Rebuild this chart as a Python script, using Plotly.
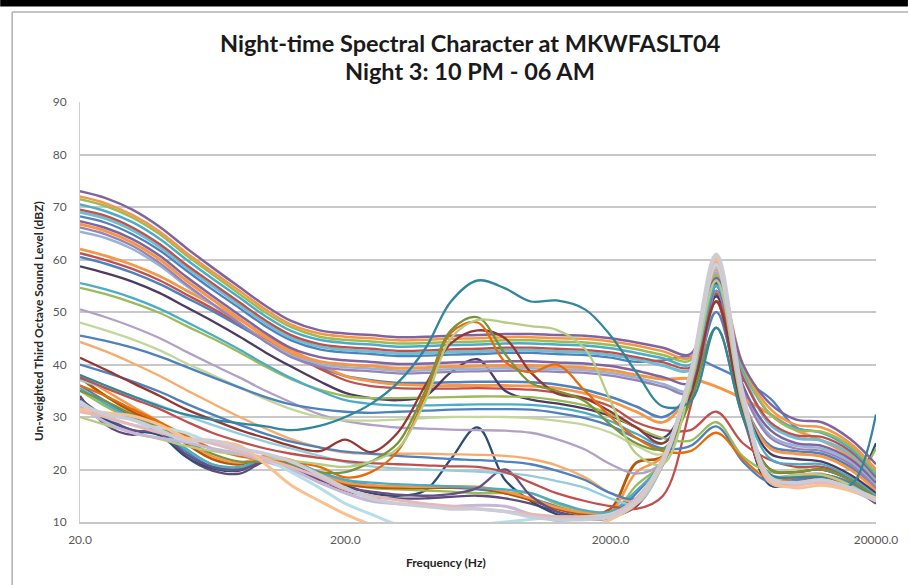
import plotly.graph_objects as go

FREQ_HZ = [20, 25, 31.5, 40, 50, 63, 80, 100, 125, 160, 200, 250, 315, 400, 500, 630,
           800, 1000, 1250, 1600, 2000, 2500, 3150, 4000, 5000, 6300, 8000, 10000, 12500, 16000, 20000]
X_TICK_VALUES = [20, 200, 2000, 20000]
X_TICK_LABELS = ["20.0", "200.0", "2000.0", "20000.0"]
Y_TICK_VALUES = [10, 20, 30, 40, 50, 60, 70, 80, 90]
TITLE_LINES = ["Night-time Spectral Character at MKWFASLT04", "Night 3: 10 PM - 06 AM"]
X_TITLE = "Frequency (Hz)"
Y_TITLE = "Un-weighted Third Octave Sound Level (dBZ)"

# ---- series (dBZ per third-octave band) ----
# lower group (dip near 63-80 Hz)
L_PURPLE = [34, 28.5, 26.6, 27.8, 22.5, 19.8, 19.2, 21.5, 20.5, 17.5, 16, 14.8, 14.5, 14.5, 14.8, 15.0, 14.5, 13.5, 12, 11, 11, 13, 21, 36, 55.5, 31, 17, 17.5, 18, 16.5, 13.5]
L_NAVY = [33, 29.5, 27.5, 26.5, 22.5, 20.2, 19.8, 21.8, 21, 18.5, 17, 15.5, 15, 16, 22, 28, 18, 14, 11.5, 10.5, 11, 14, 21.5, 36.5, 54, 31, 17, 17.5, 18, 17, 25]
L_BLUE = [36, 33, 30, 27.5, 23.5, 20.5, 20, 22, 21.5, 19.5, 18, 17, 16.5, 16.5, 16.5, 16.2, 15.5, 14.5, 13, 11.5, 11.5, 15.5, 22, 37, 55, 32, 17.5, 18, 18.5, 17, 14]
L_GREEN = [35, 32, 29.5, 27.5, 24, 21, 20.3, 21.8, 21.5, 19, 17.5, 16.5, 16.2, 16, 15.8, 15.5, 15.5, 15.5, 13.5, 12, 11.5, 17, 21.5, 36, 53, 31, 18, 18.5, 19, 17.5, 24]
L_BROWN = [37.5, 34, 31, 28.5, 25, 22, 21, 22.5, 21.5, 19, 17.2, 16.7, 16.5, 16.5, 16.6, 16.5, 15.5, 14.2, 12.5, 11.5, 12.5, 21.3, 22.5, 37, 53.5, 31.5, 18, 18, 18.5, 17, 14]
L_ORANGE = [38, 35, 32, 29, 25.5, 22.5, 21.3, 22.5, 21.8, 19.3, 17.5, 17, 16.8, 16.7, 16.8, 16.7, 15.8, 14.5, 12.8, 11.8, 12, 19.5, 22.5, 37.5, 57, 32.5, 18.5, 18.5, 19, 17.5, 14.5]
L_TEAL = [35.5, 32.5, 29.8, 27.5, 24, 21, 20.5, 22, 21.5, 19.5, 18, 17.5, 17.2, 17.0, 16.8, 16.5, 16.2, 15.5, 13.8, 12.2, 12, 16, 21.5, 36.5, 54, 31.5, 18, 18, 18.5, 17, 14]
L_PURPLE2 = [33.5, 30, 27.5, 27, 23, 20.5, 20, 21.5, 20.5, 18, 16.5, 15.8, 15.2, 15, 15.3, 16.5, 20, 15, 12, 10.5, 10.8, 13.5, 21, 36, 56, 31.5, 17.5, 17.5, 18, 16.5, 14]

# middle-lower group
ML_LAVENDER = [50.5, 49.0, 47.2, 45.0, 42.5, 40, 37.5, 35, 32.8, 30.5, 29.2, 28.5, 28.0, 27.8, 27.6, 27.5, 27.4, 27.0, 25.8, 23.8, 21.0, 19.2, 21.5, 36.0, 57.0, 32.0, 19.0, 19.0, 19.2, 17.0, 14.0]
ML_LTGREEN = [48, 46.5, 44.8, 42.7, 40.3, 38, 35.6, 33.4, 31.5, 30.0, 29.4, 29.3, 29.5, 29.8, 30.0, 30.0, 30.0, 29.8, 29.3, 28.5, 27.0, 24.5, 23.0, 36.0, 56.0, 32.0, 20.0, 20.0, 20.5, 18.0, 14.5]
ML_SALMON = [44.3, 42.5, 40.3, 37.8, 35.2, 32.6, 30.0, 27.8, 25.8, 24.2, 23.2, 23.0, 23.0, 23.0, 22.9, 22.8, 22.6, 22.0, 20.8, 18.5, 15.5, 14.0, 21.0, 37.0, 59.5, 33.0, 18.0, 18.5, 19.0, 17.0, 14.0]
ML_BLUE = [40, 38.5, 36.8, 34.8, 32.6, 30.5, 28.5, 26.8, 25.3, 24.2, 23.4, 23.0, 22.6, 22.3, 22.0, 21.8, 21.5, 21.0, 19.8, 18.0, 15.5, 14.5, 21.0, 36.0, 56.0, 31.5, 17.5, 18.0, 18.5, 16.5, 14.0]
ML_LTBLUE = [37.0, 35.5, 34.0, 32.2, 30.3, 28.5, 26.8, 25.3, 24.0, 22.6, 21.4, 20.6, 20.2, 20.0, 19.8, 19.6, 19.3, 18.8, 17.8, 16.5, 14.5, 13.5, 21.0, 38.0, 60.5, 33.5, 18.0, 18.5, 19.0, 17.0, 14.5]
ML_RED = [37.5, 35.5, 33.5, 31.5, 29.2, 27, 25.3, 24, 23, 22.2, 21.6, 21.2, 21, 20.8, 20.6, 20.5, 19.5, 17.5, 15.5, 14, 13, 12.5, 15, 32, 52, 30, 18, 18, 18.5, 16.5, 14]

# middle group
M_BLUE = [60.5, 59.2, 57.5, 55.3, 52.8, 50.2, 47.3, 44.5, 42, 39.5, 37.8, 37.0, 36.5, 36.5, 36.6, 36.7, 36.7, 36.6, 36.2, 35.2, 33.8, 32.0, 30.0, 35.0, 50, 33.0, 24.5, 23.5, 23.0, 20.5, 16.5]
M_ORANGE = [62, 60.7, 59, 56.8, 54.2, 51.5, 48.5, 45.5, 42.8, 40, 37.8, 36.8, 36.2, 36.0, 36.0, 36.0, 36.0, 35.9, 35.5, 34.5, 33.0, 31.0, 29.0, 35.0, 52, 33.0, 24.0, 23.0, 22.5, 20.0, 16.0]
M_RED = [61.2, 59.9, 58.2, 56, 53.4, 50.7, 47.7, 44.7, 42, 39.2, 37.0, 35.9, 35.5, 35.4, 35.4, 35.5, 35.4, 35.2, 34.6, 33.6, 32.0, 29.0, 27.5, 27.5, 31.0, 25.0, 21.8, 20.5, 20.5, 18.5, 15.0]
M_DKPURPLE = [58.7, 57.4, 55.8, 53.6, 51.0, 48.3, 45.3, 42.3, 39.6, 36.8, 34.6, 33.6, 33.2, 34.0, 38.5, 41.0, 35.0, 33.3, 32.6, 31.6, 30.2, 28.0, 26.0, 35.0, 53, 33.0, 23.0, 22.0, 21.5, 19.0, 15.5]
M_GREEN = [54.6, 53.4, 51.8, 49.8, 47.4, 45, 42.3, 39.6, 37.2, 35.2, 34.0, 33.6, 33.6, 33.7, 33.8, 33.9, 33.9, 33.8, 33.2, 32.2, 30.5, 28.0, 26.0, 25.5, 29.0, 22.5, 19.5, 19.5, 20.0, 18.0, 15.0]
M_TEAL = [55.5, 54.3, 52.7, 50.6, 48.2, 45.6, 42.8, 40.0, 37.4, 35.0, 33.2, 32.5, 32.2, 32.2, 32.3, 32.4, 32.4, 32.3, 31.8, 30.8, 29.2, 26.8, 25.0, 35.5, 55, 33.5, 22.0, 21.0, 21.0, 18.5, 15.0]
M_BLUE2 = [45.5, 44.5, 43.2, 41.5, 39.6, 37.6, 35.6, 33.8, 32.4, 31.5, 31.0, 30.8, 31.0, 31.2, 31.4, 31.5, 31.5, 31.4, 30.8, 29.8, 28.3, 26.0, 24.0, 24.5, 28.2, 21.5, 17.5, 18.0, 19.0, 17.5, 14.5]

# upper group
U_PURPLE = [73, 71.7, 69.5, 66.2, 62.3, 58.5, 54.7, 51.2, 48.3, 46.5, 45.9, 45.6, 45.2, 45.3, 45.5, 45.6, 45.8, 45.8, 45.6, 45.5, 45.0, 44.2, 43.2, 42.0, 56.5, 40, 32.5, 29.5, 29.0, 25.8, 21.0]
U_ORANGE = [72, 70.7, 68.5, 65.3, 61.4, 57.7, 54.0, 50.5, 47.6, 45.9, 45.3, 45.0, 44.6, 44.7, 44.9, 45.0, 45.2, 45.2, 45.0, 44.9, 44.4, 43.6, 42.5, 41.3, 58, 40, 31.5, 28.5, 28.0, 25.0, 20.0]
U_GREEN = [71.5, 70.2, 68.0, 64.8, 60.9, 57.2, 53.4, 49.9, 47.1, 45.3, 44.7, 44.4, 44.0, 44.1, 44.3, 44.4, 44.6, 44.6, 44.4, 44.2, 43.7, 42.9, 41.8, 40.8, 57, 39.5, 30.5, 27.5, 27.2, 24.5, 19.5]
U_AQUA = [70.5, 69.2, 67.1, 63.9, 60.1, 56.4, 52.7, 49.2, 46.4, 44.7, 44.1, 43.8, 43.4, 43.5, 43.7, 43.8, 44.0, 44.0, 43.8, 43.6, 43.1, 42.2, 41.2, 40.0, 55, 39, 30.5, 27.8, 27.0, 24.0, 19.0]
U_RED = [69.5, 68.3, 66.1, 62.9, 59.1, 55.5, 51.8, 48.4, 45.6, 43.9, 43.3, 43.0, 42.6, 42.7, 42.9, 43.0, 43.2, 43.2, 43.0, 42.8, 42.3, 41.4, 40.4, 39.5, 52, 37.5, 29.0, 26.5, 26.2, 23.5, 18.5]
U_LTBLUE = [69, 67.8, 65.6, 62.4, 58.6, 55.0, 51.3, 47.9, 45.1, 43.4, 42.8, 42.5, 42.1, 42.2, 42.4, 42.5, 42.7, 42.7, 42.5, 42.3, 41.8, 41.0, 39.8, 39.0, 58.5, 38.5, 28.5, 26.0, 25.5, 23.0, 18.0]
U_BLUE = [68.2, 67.0, 64.8, 61.7, 58.0, 54.3, 50.7, 47.3, 44.6, 42.9, 42.3, 42.0, 41.6, 41.7, 41.9, 42.0, 42.2, 42.2, 42.0, 41.8, 41.3, 40.5, 40.8, 41.5, 39.5, 37.0, 33.5, 28.0, 27.0, 24.5, 19.5]
U_PURPLE2 = [67.3, 66.0, 63.9, 60.7, 56.8, 53.1, 49.4, 46.0, 43.1, 41.4, 40.8, 40.5, 40.1, 40.2, 40.4, 40.5, 40.6, 40.6, 40.4, 40.2, 39.7, 38.8, 37.6, 36.5, 55, 36, 27.5, 25.0, 24.5, 22.0, 17.5]
U_ORANGE2 = [66.7, 65.4, 63.2, 60.0, 56.1, 52.4, 48.7, 45.2, 42.3, 40.6, 40.0, 39.7, 39.3, 39.4, 39.6, 39.7, 39.8, 39.8, 39.6, 39.4, 38.9, 38.0, 37.2, 37.3, 35.8, 33.5, 30.5, 27.5, 25.5, 22.5, 17.5]
U_LAVENDER = [66.1, 64.8, 62.6, 59.3, 55.4, 51.6, 47.8, 44.3, 41.4, 39.6, 39.0, 38.7, 38.3, 38.4, 38.6, 38.7, 38.8, 38.8, 38.6, 38.4, 37.9, 37.0, 35.8, 34.5, 54, 35, 26.0, 24.0, 23.5, 21.0, 16.5]
U_SKY = [65.3, 64.1, 62.0, 58.8, 55.1, 51.5, 47.9, 44.5, 41.8, 40.1, 39.5, 39.2, 38.8, 38.9, 39.1, 39.2, 39.3, 39.3, 39.1, 38.9, 38.4, 37.5, 36.3, 35.0, 57.5, 36, 26.5, 24.5, 24.0, 21.5, 17.0]

# mid-frequency (630 Hz) events
B_TEAL = [38, 36, 34, 32, 30.5, 29.5, 28.8, 28.2, 27.5, 28.3, 30.0, 32.5, 36.5, 43, 52, 56, 54.5, 52, 52.2, 50.5, 45.5, 38.5, 32, 33, 47, 30, 19, 18.5, 18.5, 17, 30.5]
B_GREEN = [35, 33, 30.5, 28, 25.5, 23, 21.5, 21.5, 21, 19.5, 19.5, 21.5, 25, 35, 46.5, 49, 42, 36.5, 35, 33, 28.5, 25, 24, 33, 47, 30, 20, 19.5, 20, 18, 14.5]
B_ORANGE = [36, 34, 31.5, 29, 26.5, 24, 22.5, 22, 21.5, 20.5, 18.5, 19.5, 23.5, 34, 46, 48, 40.5, 38.5, 40, 35, 30, 26, 23.5, 23.5, 27, 22, 18, 18.5, 19, 17, 14]
B_RED = [41.3, 39, 36.5, 34, 31.5, 29.5, 27.5, 26, 24.5, 23.5, 25.7, 23.3, 27, 36, 44, 46.5, 45, 38.5, 34.5, 33.5, 31, 28, 25, 34, 52, 31, 20, 19.5, 20, 18, 14.5]
B_LTGREEN = [30, 28.5, 27, 25.8, 24.5, 23.5, 22.8, 22.2, 21.7, 21.0, 20.5, 21.5, 24, 33, 45, 48.5, 48, 47.3, 46.6, 43, 33, 23, 21, 36, 56, 32, 18.5, 19, 19, 17, 14]

# light series (drawn last)
L_PEACH = [31.5, 30.8, 30.2, 28.5, 26, 25.5, 24.5, 21, 17, 14, 11.5, 9.5, 8, 7, 7, 7, 7, 7.5, 8, 8.5, 10.5, 13.5, 21.5, 38, 60.5, 34, 18, 16.5, 17, 16, 14.5]
L_ICE = [33, 30, 28.5, 28, 27, 25, 23.5, 22, 19.5, 16.5, 13.5, 11.5, 9.5, 9, 9, 9.5, 10, 10.5, 11, 11, 11.5, 14, 21.5, 37.5, 59, 33.5, 17.5, 17, 18, 16.5, 14.5]
L_MIST = [32.5, 30.5, 29.5, 27.5, 25.5, 25.5, 24, 23, 21.5, 19, 16.5, 14.5, 13.5, 13, 12.5, 12.5, 12, 11, 10.5, 10.5, 11, 14, 22, 38.5, 61, 34.5, 18.5, 17.5, 18, 16.5, 14]
L_ROSE = [31, 30, 28.5, 27, 26, 25, 23.5, 22, 20.5, 18.5, 16.2, 15, 14.2, 13.5, 13, 12.5, 12, 11.5, 11, 10.8, 11.2, 14.5, 22, 38.5, 60, 34, 17.5, 17, 17.5, 16, 14]
L_LILAC = [32, 29, 27, 26, 25.2, 24, 23, 21.5, 20, 17.5, 15.5, 14, 13.5, 13.2, 13, 13.2, 13, 11.5, 10.3, 10.8, 11.5, 14.5, 21.5, 37.5, 58.5, 33, 18, 17.5, 18, 16.5, 14.5]

SERIES = [
    (L_PURPLE, "#604A7B", 2.3), (L_NAVY, "#2C4D75", 2.3), (L_BLUE, "#4F81BD", 2.3),
    (L_GREEN, "#9BBB59", 2.3), (L_BROWN, "#B65708", 2.8), (L_ORANGE, "#F79646", 2.5),
    (L_TEAL, "#4BACC6", 2.3), (L_PURPLE2, "#664F83", 2.3),
    (ML_LAVENDER, "#B2A1C7", 2.3), (ML_LTGREEN, "#C3D69B", 2.3), (ML_SALMON, "#F9AB6B", 2.3),
    (ML_BLUE, "#4F81BD", 2.3), (ML_LTBLUE, "#93CDDD", 2.3), (ML_RED, "#C0504D", 2.3),
    (M_BLUE, "#4F81BD", 2.5), (M_ORANGE, "#F79646", 2.8), (M_RED, "#C0504D", 2.3),
    (M_DKPURPLE, "#4D3B62", 2.3), (M_GREEN, "#9BBB59", 2.3), (M_TEAL, "#4BACC6", 2.3),
    (M_BLUE2, "#4F81BD", 2.3),
    (U_SKY, "#95B3D7", 2.5), (U_LAVENDER, "#9983B5", 2.3), (U_ORANGE2, "#F79646", 3.0),
    (U_PURPLE2, "#8064A2", 2.5), (U_BLUE, "#4F81BD", 2.3), (U_LTBLUE, "#6FBDD1", 3.0),
    (U_RED, "#C0504D", 2.3), (U_AQUA, "#4BACC6", 2.5), (U_GREEN, "#9BBB59", 2.5),
    (U_ORANGE, "#F79646", 2.5), (U_PURPLE, "#8064A2", 2.5),
    (B_RED, "#953735", 2.3), (B_ORANGE, "#E46C0A", 2.3), (B_GREEN, "#77933C", 2.3),
    (B_LTGREEN, "#B5CC83", 2.3), (B_TEAL, "#31859C", 2.3),
    (L_LILAC, "#C4B8D6", 3.0), (L_ICE, "#B7DEE8", 3.0), (L_ROSE, "#E6B9B8", 3.0),
    (L_PEACH, "#FAC090", 3.0), (L_MIST, "#CCCCD6", 3.5),
]

fig = go.Figure()
for values, color, width in SERIES:
    fig.add_trace(go.Scatter(
        x=FREQ_HZ, y=values, mode="lines",
        line=dict(color=color, width=width, shape="spline", smoothing=1.0),
        showlegend=False, hoverinfo="skip",
    ))

FONT = "Lato, 'Open Sans', sans-serif"
W, H = 910, 585
L, R, T, B = 80, 32, 102, 63
PW, PH = W - L - R, H - T - B


def px(xp):
    return (xp - L) / PW


def py(yp):
    return (H - B - yp) / PH


title_font = dict(family=FONT, size=23.5, color="#1a1a1a", weight="bold")
axis_title_font = dict(family=FONT, size=12, color="#262626")

fig.update_layout(
    width=W, height=H,
    margin=dict(l=L, r=R, t=T, b=B),
    paper_bgcolor="white", plot_bgcolor="white",
    font=dict(family=FONT, color="#595959"),
    xaxis=dict(
        type="log", range=[1.30103, 4.30103],
        tickvals=X_TICK_VALUES, ticktext=X_TICK_LABELS,
        showgrid=False, zeroline=False,
        showline=True, linecolor="#C8C8C8", linewidth=1.5,
        ticks="", ticklabelstandoff=6,
        tickfont=dict(size=12, color="#595959"),
    ),
    yaxis=dict(
        range=[10, 90], tickvals=Y_TICK_VALUES,
        showgrid=True, gridcolor="#C8C8C8", gridwidth=1.5,
        zeroline=False, showline=True, linecolor="#D0D0D0", linewidth=1,
        ticks="", ticklabelstandoff=10,
        tickfont=dict(size=12, color="#595959"),
    ),
    annotations=[
        dict(text=TITLE_LINES[0], xref="paper", yref="paper", x=px(471), y=py(43),
             showarrow=False, font=title_font, xanchor="center", yanchor="middle"),
        dict(text=TITLE_LINES[1], xref="paper", yref="paper", x=px(471), y=py(71),
             showarrow=False, font=title_font, xanchor="center", yanchor="middle"),
        dict(text="<b>" + X_TITLE + "</b>", xref="paper", yref="paper",
             x=px(447), y=py(562), showarrow=False, font=axis_title_font,
             xanchor="center", yanchor="middle"),
        dict(text="<b>" + Y_TITLE + "</b>", xref="paper", yref="paper",
             x=px(38), y=py(321), showarrow=False, textangle=-90, font=axis_title_font,
             xanchor="center", yanchor="middle"),
    ],
    shapes=[
        dict(type="rect", xref="paper", yref="paper", x0=px(0), x1=px(910), y0=py(6.5), y1=py(0),
             fillcolor="black", line=dict(width=0), layer="above"),
        dict(type="line", xref="paper", yref="paper", x0=px(12), x1=px(910), y0=py(12), y1=py(12),
             line=dict(color="#B0B0B0", width=1.5)),
        dict(type="line", xref="paper", yref="paper", x0=px(12), x1=px(12), y0=py(12), y1=py(585),
             line=dict(color="#B0B0B0", width=1.5)),
    ],
)

fig.write_html(
    "out.html",
    config={"displayModeBar": False},
    post_script="document.body.style.margin='0';document.body.style.overflow='hidden';",
)
